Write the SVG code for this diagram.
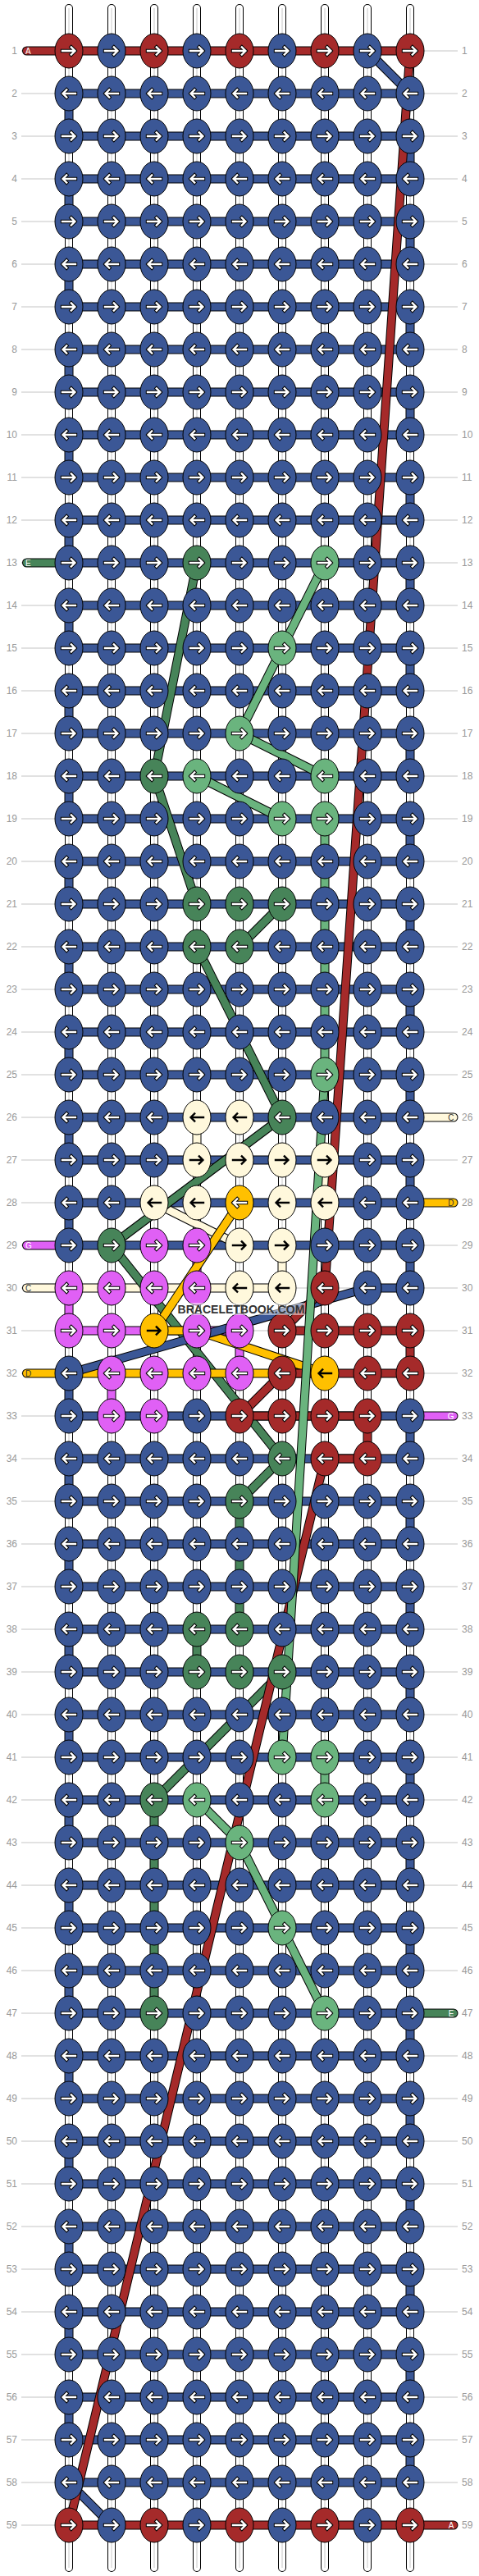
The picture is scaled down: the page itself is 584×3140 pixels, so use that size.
<svg xmlns="http://www.w3.org/2000/svg" width="584" height="3140" viewBox="0 0 584 3140">
<style>
.gl{fill:none;stroke:#c4c4c4;stroke-width:1}
.bo{fill:none;stroke:#000;stroke-width:10;stroke-linecap:round}
.bw{fill:none;stroke:#fff;stroke-width:8;stroke-linecap:round}
.bc{fill:none;stroke:#c8c8c8;stroke-width:1}
.o{fill:none;stroke:#000;stroke-width:11;stroke-linecap:round;stroke-linejoin:round}
.s{fill:none;stroke-width:9;stroke-linecap:round;stroke-linejoin:round}
.sB{stroke:#3b5796}.sR{stroke:#a52a2a}.sG{stroke:#478459}.sL{stroke:#6ab47e}.sP{stroke:#e060f5}.sC{stroke:#fff8dc}.sY{stroke:#ffc000}
ellipse{stroke:#000;stroke-width:1}
.cB{fill:#3b5796}.cR{fill:#a52a2a}.cG{fill:#478459}.cL{fill:#6ab47e}.cP{fill:#e060f5}.cC{fill:#fff8dc}.cY{fill:#ffc000}
.ao{fill:none;stroke:#000;stroke-width:4.4;stroke-linecap:square}
.aw{fill:none;stroke:#fff;stroke-width:2.4;stroke-linecap:square}
.ab{fill:none;stroke:#000;stroke-width:2.4;stroke-linecap:square}
text{font-family:"Liberation Sans",Arial,sans-serif}
.ln{font-size:12px;fill:#999;text-anchor:end}
.rn{font-size:12px;fill:#999}
.st{font-size:10px;fill:#fff}
.sd{font-size:10px;fill:#333}
.ste{font-size:10px;fill:#fff;text-anchor:end}
.sde{font-size:10px;fill:#333;text-anchor:end}
.wm{font-size:14px;font-weight:bold;fill:#333;text-anchor:middle}
</style>
<defs>
<path id="aR" d="M-8 0H7M2.8-4.6L7.4 0L2.8 4.6"/>
<path id="aL" d="M8 0H-7M-2.8-4.6L-7.4 0L-2.8 4.6"/>
<g id="Br"><ellipse class="cB" rx="17" ry="21"/><use href="#aR" class="ao"/><use href="#aR" class="aw"/></g>
<g id="Bl"><ellipse class="cB" rx="17" ry="21"/><use href="#aL" class="ao"/><use href="#aL" class="aw"/></g>
<g id="Rr"><ellipse class="cR" rx="17" ry="21"/><use href="#aR" class="ao"/><use href="#aR" class="aw"/></g>
<g id="Rl"><ellipse class="cR" rx="17" ry="21"/><use href="#aL" class="ao"/><use href="#aL" class="aw"/></g>
<g id="Gr"><ellipse class="cG" rx="17" ry="21"/><use href="#aR" class="ao"/><use href="#aR" class="aw"/></g>
<g id="Gl"><ellipse class="cG" rx="17" ry="21"/><use href="#aL" class="ao"/><use href="#aL" class="aw"/></g>
<g id="Lr"><ellipse class="cL" rx="17" ry="21"/><use href="#aR" class="ao"/><use href="#aR" class="aw"/></g>
<g id="Ll"><ellipse class="cL" rx="17" ry="21"/><use href="#aL" class="ao"/><use href="#aL" class="aw"/></g>
<g id="Pr"><ellipse class="cP" rx="17" ry="21"/><use href="#aR" class="ao"/><use href="#aR" class="aw"/></g>
<g id="Pl"><ellipse class="cP" rx="17" ry="21"/><use href="#aL" class="ao"/><use href="#aL" class="aw"/></g>
<g id="Cr"><ellipse class="cC" rx="17" ry="21"/><use href="#aR" class="ab"/></g>
<g id="Cl"><ellipse class="cC" rx="17" ry="21"/><use href="#aL" class="ab"/></g>
<g id="Yr"><ellipse class="cY" rx="17" ry="21"/><use href="#aR" class="ab"/></g>
<g id="Yl"><ellipse class="cY" rx="17" ry="21"/><use href="#aL" class="ab"/></g>
<g id="Yw"><ellipse class="cY" rx="17" ry="21"/><use href="#aL" class="ao"/><use href="#aL" class="aw"/></g>
<path id="pBase" d="M84 10V3130M136 10V3130M188 10V3130M240 10V3130M292 10V3130M344 10V3130M396 10V3130M448 10V3130M500 10V3130"/>
<path id="pB1" d="M448 62L500 114H84V166H500V218H84V270H500V322H84V374H500V426H84V478H500V530H84V582H500V634H84V686H500V738H84V790H500V842H84V894H500V946H84V998H500V1050H84V1102H500V1154H84V1206H500V1258H84V1310H500V1362H84V1414H500V1466H84V1518H500V1570H448"/>
<path id="pB2" d="M84 1674V1726H500V1778H84V1830H500V1882H84V1934H500V1986H84V2038H500V2090H84V2142H500V2194H84V2246H500V2298H84V2350H500V2402H84V2454H500V2506H84V2558H500V2610H84V2662H500V2714H84V2766H500V2818H84V2870H500V2922H84V2974H500V3026H84L136 3078"/>
<path id="pBd" d="M448 1570L84 1674"/>
<path id="pC" d="M553 1362H500M240 1362V1414M396 1414V1466M188 1466L292 1518M344 1518V1570H32.5"/>
<path id="pP" d="M32.5 1518H84M240 1518V1570M84 1570V1622H292V1674M136 1674V1726M500 1726H553"/>
<path id="pG" d="M32.5 686H84M240 686L188 946L240 1102M344 1102L292 1154M240 1154L344 1362L136 1518L344 1778L292 1830V1986M240 1986V2038M344 2038L188 2194V2454M500 2454H553"/>
<path id="pY" d="M553 1466H500M292 1466L188 1622H240L396 1674H32.5"/>
<path id="pR" d="M32.5 62H500L396 1570L344 1622H500V1674H344L292 1726H448V1778H396L84 3078H553"/>
<path id="pL" d="M396 686L344 790L292 894L396 946M240 946L344 998M396 998V1310L344 2142M396 2142V2194M240 2194L292 2246L344 2350L396 2454"/>
</defs>
<rect width="584" height="3140" fill="#fff"/>
<g id="guides">
<path class="gl" d="M26 62H558M26 114H558M26 166H558M26 218H558M26 270H558M26 322H558M26 374H558M26 426H558M26 478H558M26 530H558M26 582H558M26 634H558M26 686H558M26 738H558M26 790H558M26 842H558M26 894H558M26 946H558M26 998H558M26 1050H558M26 1102H558M26 1154H558M26 1206H558M26 1258H558M26 1310H558M26 1362H558M26 1414H558M26 1466H558M26 1518H558M26 1570H558M26 1622H558M26 1674H558M26 1726H558M26 1778H558M26 1830H558M26 1882H558M26 1934H558M26 1986H558M26 2038H558M26 2090H558M26 2142H558M26 2194H558M26 2246H558M26 2298H558M26 2350H558M26 2402H558M26 2454H558M26 2506H558M26 2558H558M26 2610H558M26 2662H558M26 2714H558M26 2766H558M26 2818H558M26 2870H558M26 2922H558M26 2974H558M26 3026H558M26 3078H558"/>
</g>
<g id="connectors">
<use href="#pBase" class="bo"/><use href="#pBase" class="bw"/><use href="#pBase" class="bc"/>
<use href="#pB1" class="o"/><use href="#pB1" class="s sB"/>
<use href="#pB2" class="o"/><use href="#pB2" class="s sB"/>
<use href="#pC" class="o"/><use href="#pC" class="s sC"/>
<use href="#pP" class="o"/><use href="#pP" class="s sP"/>
<use href="#pG" class="o"/><use href="#pG" class="s sG"/>
<use href="#pY" class="o"/><use href="#pY" class="s sY"/>
<use href="#pBd" class="o"/><use href="#pBd" class="s sB"/>
<use href="#pR" class="o"/><use href="#pR" class="s sR"/>
<use href="#pL" class="o"/><use href="#pL" class="s sL"/>
</g>
<g id="stub-labels">
<text class="st" x="31" y="65.6">A</text>
<text class="st" x="31" y="689.6">E</text>
<text class="st" x="31" y="1521.6">G</text>
<text class="sd" x="31" y="1573.6">C</text>
<text class="sd" x="31" y="1677.6">D</text>
<text class="sde" x="553.5" y="1365.6">C</text>
<text class="sde" x="553.5" y="1469.6">D</text>
<text class="ste" x="553.5" y="1729.6">G</text>
<text class="ste" x="553.5" y="2457.6">E</text>
<text class="ste" x="553.5" y="3081.6">A</text>
</g>
<g id="knots">
<g id="k1_1"><use href="#Rr" x="84" y="62"/></g><g id="k1_2"><use href="#Br" x="136" y="62"/></g><g id="k1_3"><use href="#Rr" x="188" y="62"/></g><g id="k1_4"><use href="#Br" x="240" y="62"/></g><g id="k1_5"><use href="#Rr" x="292" y="62"/></g><g id="k1_6"><use href="#Br" x="344" y="62"/></g><g id="k1_7"><use href="#Rr" x="396" y="62"/></g><g id="k1_8"><use href="#Br" x="448" y="62"/></g><g id="k1_9"><use href="#Rr" x="500" y="62"/></g>
<g id="k2_1"><use href="#Bl" x="84" y="114"/></g><g id="k2_2"><use href="#Bl" x="136" y="114"/></g><g id="k2_3"><use href="#Bl" x="188" y="114"/></g><g id="k2_4"><use href="#Bl" x="240" y="114"/></g><g id="k2_5"><use href="#Bl" x="292" y="114"/></g><g id="k2_6"><use href="#Bl" x="344" y="114"/></g><g id="k2_7"><use href="#Bl" x="396" y="114"/></g><g id="k2_8"><use href="#Bl" x="448" y="114"/></g><g id="k2_9"><use href="#Bl" x="500" y="114"/></g>
<g id="k3_1"><use href="#Br" x="84" y="166"/></g><g id="k3_2"><use href="#Br" x="136" y="166"/></g><g id="k3_3"><use href="#Br" x="188" y="166"/></g><g id="k3_4"><use href="#Br" x="240" y="166"/></g><g id="k3_5"><use href="#Br" x="292" y="166"/></g><g id="k3_6"><use href="#Br" x="344" y="166"/></g><g id="k3_7"><use href="#Br" x="396" y="166"/></g><g id="k3_8"><use href="#Br" x="448" y="166"/></g><g id="k3_9"><use href="#Br" x="500" y="166"/></g>
<g id="k4_1"><use href="#Bl" x="84" y="218"/></g><g id="k4_2"><use href="#Bl" x="136" y="218"/></g><g id="k4_3"><use href="#Bl" x="188" y="218"/></g><g id="k4_4"><use href="#Bl" x="240" y="218"/></g><g id="k4_5"><use href="#Bl" x="292" y="218"/></g><g id="k4_6"><use href="#Bl" x="344" y="218"/></g><g id="k4_7"><use href="#Bl" x="396" y="218"/></g><g id="k4_8"><use href="#Bl" x="448" y="218"/></g><g id="k4_9"><use href="#Bl" x="500" y="218"/></g>
<g id="k5_1"><use href="#Br" x="84" y="270"/></g><g id="k5_2"><use href="#Br" x="136" y="270"/></g><g id="k5_3"><use href="#Br" x="188" y="270"/></g><g id="k5_4"><use href="#Br" x="240" y="270"/></g><g id="k5_5"><use href="#Br" x="292" y="270"/></g><g id="k5_6"><use href="#Br" x="344" y="270"/></g><g id="k5_7"><use href="#Br" x="396" y="270"/></g><g id="k5_8"><use href="#Br" x="448" y="270"/></g><g id="k5_9"><use href="#Br" x="500" y="270"/></g>
<g id="k6_1"><use href="#Bl" x="84" y="322"/></g><g id="k6_2"><use href="#Bl" x="136" y="322"/></g><g id="k6_3"><use href="#Bl" x="188" y="322"/></g><g id="k6_4"><use href="#Bl" x="240" y="322"/></g><g id="k6_5"><use href="#Bl" x="292" y="322"/></g><g id="k6_6"><use href="#Bl" x="344" y="322"/></g><g id="k6_7"><use href="#Bl" x="396" y="322"/></g><g id="k6_8"><use href="#Bl" x="448" y="322"/></g><g id="k6_9"><use href="#Bl" x="500" y="322"/></g>
<g id="k7_1"><use href="#Br" x="84" y="374"/></g><g id="k7_2"><use href="#Br" x="136" y="374"/></g><g id="k7_3"><use href="#Br" x="188" y="374"/></g><g id="k7_4"><use href="#Br" x="240" y="374"/></g><g id="k7_5"><use href="#Br" x="292" y="374"/></g><g id="k7_6"><use href="#Br" x="344" y="374"/></g><g id="k7_7"><use href="#Br" x="396" y="374"/></g><g id="k7_8"><use href="#Br" x="448" y="374"/></g><g id="k7_9"><use href="#Br" x="500" y="374"/></g>
<g id="k8_1"><use href="#Bl" x="84" y="426"/></g><g id="k8_2"><use href="#Bl" x="136" y="426"/></g><g id="k8_3"><use href="#Bl" x="188" y="426"/></g><g id="k8_4"><use href="#Bl" x="240" y="426"/></g><g id="k8_5"><use href="#Bl" x="292" y="426"/></g><g id="k8_6"><use href="#Bl" x="344" y="426"/></g><g id="k8_7"><use href="#Bl" x="396" y="426"/></g><g id="k8_8"><use href="#Bl" x="448" y="426"/></g><g id="k8_9"><use href="#Bl" x="500" y="426"/></g>
<g id="k9_1"><use href="#Br" x="84" y="478"/></g><g id="k9_2"><use href="#Br" x="136" y="478"/></g><g id="k9_3"><use href="#Br" x="188" y="478"/></g><g id="k9_4"><use href="#Br" x="240" y="478"/></g><g id="k9_5"><use href="#Br" x="292" y="478"/></g><g id="k9_6"><use href="#Br" x="344" y="478"/></g><g id="k9_7"><use href="#Br" x="396" y="478"/></g><g id="k9_8"><use href="#Br" x="448" y="478"/></g><g id="k9_9"><use href="#Br" x="500" y="478"/></g>
<g id="k10_1"><use href="#Bl" x="84" y="530"/></g><g id="k10_2"><use href="#Bl" x="136" y="530"/></g><g id="k10_3"><use href="#Bl" x="188" y="530"/></g><g id="k10_4"><use href="#Bl" x="240" y="530"/></g><g id="k10_5"><use href="#Bl" x="292" y="530"/></g><g id="k10_6"><use href="#Bl" x="344" y="530"/></g><g id="k10_7"><use href="#Bl" x="396" y="530"/></g><g id="k10_8"><use href="#Bl" x="448" y="530"/></g><g id="k10_9"><use href="#Bl" x="500" y="530"/></g>
<g id="k11_1"><use href="#Br" x="84" y="582"/></g><g id="k11_2"><use href="#Br" x="136" y="582"/></g><g id="k11_3"><use href="#Br" x="188" y="582"/></g><g id="k11_4"><use href="#Br" x="240" y="582"/></g><g id="k11_5"><use href="#Br" x="292" y="582"/></g><g id="k11_6"><use href="#Br" x="344" y="582"/></g><g id="k11_7"><use href="#Br" x="396" y="582"/></g><g id="k11_8"><use href="#Br" x="448" y="582"/></g><g id="k11_9"><use href="#Br" x="500" y="582"/></g>
<g id="k12_1"><use href="#Bl" x="84" y="634"/></g><g id="k12_2"><use href="#Bl" x="136" y="634"/></g><g id="k12_3"><use href="#Bl" x="188" y="634"/></g><g id="k12_4"><use href="#Bl" x="240" y="634"/></g><g id="k12_5"><use href="#Bl" x="292" y="634"/></g><g id="k12_6"><use href="#Bl" x="344" y="634"/></g><g id="k12_7"><use href="#Bl" x="396" y="634"/></g><g id="k12_8"><use href="#Bl" x="448" y="634"/></g><g id="k12_9"><use href="#Bl" x="500" y="634"/></g>
<g id="k13_1"><use href="#Br" x="84" y="686"/></g><g id="k13_2"><use href="#Br" x="136" y="686"/></g><g id="k13_3"><use href="#Br" x="188" y="686"/></g><g id="k13_4"><use href="#Gr" x="240" y="686"/></g><g id="k13_5"><use href="#Br" x="292" y="686"/></g><g id="k13_6"><use href="#Br" x="344" y="686"/></g><g id="k13_7"><use href="#Lr" x="396" y="686"/></g><g id="k13_8"><use href="#Br" x="448" y="686"/></g><g id="k13_9"><use href="#Br" x="500" y="686"/></g>
<g id="k14_1"><use href="#Bl" x="84" y="738"/></g><g id="k14_2"><use href="#Bl" x="136" y="738"/></g><g id="k14_3"><use href="#Bl" x="188" y="738"/></g><g id="k14_4"><use href="#Bl" x="240" y="738"/></g><g id="k14_5"><use href="#Bl" x="292" y="738"/></g><g id="k14_6"><use href="#Bl" x="344" y="738"/></g><g id="k14_7"><use href="#Bl" x="396" y="738"/></g><g id="k14_8"><use href="#Bl" x="448" y="738"/></g><g id="k14_9"><use href="#Bl" x="500" y="738"/></g>
<g id="k15_1"><use href="#Br" x="84" y="790"/></g><g id="k15_2"><use href="#Br" x="136" y="790"/></g><g id="k15_3"><use href="#Br" x="188" y="790"/></g><g id="k15_4"><use href="#Br" x="240" y="790"/></g><g id="k15_5"><use href="#Br" x="292" y="790"/></g><g id="k15_6"><use href="#Lr" x="344" y="790"/></g><g id="k15_7"><use href="#Br" x="396" y="790"/></g><g id="k15_8"><use href="#Br" x="448" y="790"/></g><g id="k15_9"><use href="#Br" x="500" y="790"/></g>
<g id="k16_1"><use href="#Bl" x="84" y="842"/></g><g id="k16_2"><use href="#Bl" x="136" y="842"/></g><g id="k16_3"><use href="#Bl" x="188" y="842"/></g><g id="k16_4"><use href="#Bl" x="240" y="842"/></g><g id="k16_5"><use href="#Bl" x="292" y="842"/></g><g id="k16_6"><use href="#Bl" x="344" y="842"/></g><g id="k16_7"><use href="#Bl" x="396" y="842"/></g><g id="k16_8"><use href="#Bl" x="448" y="842"/></g><g id="k16_9"><use href="#Bl" x="500" y="842"/></g>
<g id="k17_1"><use href="#Br" x="84" y="894"/></g><g id="k17_2"><use href="#Br" x="136" y="894"/></g><g id="k17_3"><use href="#Br" x="188" y="894"/></g><g id="k17_4"><use href="#Br" x="240" y="894"/></g><g id="k17_5"><use href="#Lr" x="292" y="894"/></g><g id="k17_6"><use href="#Br" x="344" y="894"/></g><g id="k17_7"><use href="#Br" x="396" y="894"/></g><g id="k17_8"><use href="#Br" x="448" y="894"/></g><g id="k17_9"><use href="#Br" x="500" y="894"/></g>
<g id="k18_1"><use href="#Bl" x="84" y="946"/></g><g id="k18_2"><use href="#Bl" x="136" y="946"/></g><g id="k18_3"><use href="#Gl" x="188" y="946"/></g><g id="k18_4"><use href="#Ll" x="240" y="946"/></g><g id="k18_5"><use href="#Bl" x="292" y="946"/></g><g id="k18_6"><use href="#Bl" x="344" y="946"/></g><g id="k18_7"><use href="#Ll" x="396" y="946"/></g><g id="k18_8"><use href="#Bl" x="448" y="946"/></g><g id="k18_9"><use href="#Bl" x="500" y="946"/></g>
<g id="k19_1"><use href="#Br" x="84" y="998"/></g><g id="k19_2"><use href="#Br" x="136" y="998"/></g><g id="k19_3"><use href="#Br" x="188" y="998"/></g><g id="k19_4"><use href="#Br" x="240" y="998"/></g><g id="k19_5"><use href="#Br" x="292" y="998"/></g><g id="k19_6"><use href="#Lr" x="344" y="998"/></g><g id="k19_7"><use href="#Lr" x="396" y="998"/></g><g id="k19_8"><use href="#Br" x="448" y="998"/></g><g id="k19_9"><use href="#Br" x="500" y="998"/></g>
<g id="k20_1"><use href="#Bl" x="84" y="1050"/></g><g id="k20_2"><use href="#Bl" x="136" y="1050"/></g><g id="k20_3"><use href="#Bl" x="188" y="1050"/></g><g id="k20_4"><use href="#Bl" x="240" y="1050"/></g><g id="k20_5"><use href="#Bl" x="292" y="1050"/></g><g id="k20_6"><use href="#Bl" x="344" y="1050"/></g><g id="k20_7"><use href="#Bl" x="396" y="1050"/></g><g id="k20_8"><use href="#Bl" x="448" y="1050"/></g><g id="k20_9"><use href="#Bl" x="500" y="1050"/></g>
<g id="k21_1"><use href="#Br" x="84" y="1102"/></g><g id="k21_2"><use href="#Br" x="136" y="1102"/></g><g id="k21_3"><use href="#Br" x="188" y="1102"/></g><g id="k21_4"><use href="#Gr" x="240" y="1102"/></g><g id="k21_5"><use href="#Gr" x="292" y="1102"/></g><g id="k21_6"><use href="#Gr" x="344" y="1102"/></g><g id="k21_7"><use href="#Br" x="396" y="1102"/></g><g id="k21_8"><use href="#Br" x="448" y="1102"/></g><g id="k21_9"><use href="#Br" x="500" y="1102"/></g>
<g id="k22_1"><use href="#Bl" x="84" y="1154"/></g><g id="k22_2"><use href="#Bl" x="136" y="1154"/></g><g id="k22_3"><use href="#Bl" x="188" y="1154"/></g><g id="k22_4"><use href="#Gl" x="240" y="1154"/></g><g id="k22_5"><use href="#Gl" x="292" y="1154"/></g><g id="k22_6"><use href="#Bl" x="344" y="1154"/></g><g id="k22_7"><use href="#Bl" x="396" y="1154"/></g><g id="k22_8"><use href="#Bl" x="448" y="1154"/></g><g id="k22_9"><use href="#Bl" x="500" y="1154"/></g>
<g id="k23_1"><use href="#Br" x="84" y="1206"/></g><g id="k23_2"><use href="#Br" x="136" y="1206"/></g><g id="k23_3"><use href="#Br" x="188" y="1206"/></g><g id="k23_4"><use href="#Br" x="240" y="1206"/></g><g id="k23_5"><use href="#Br" x="292" y="1206"/></g><g id="k23_6"><use href="#Br" x="344" y="1206"/></g><g id="k23_7"><use href="#Br" x="396" y="1206"/></g><g id="k23_8"><use href="#Br" x="448" y="1206"/></g><g id="k23_9"><use href="#Br" x="500" y="1206"/></g>
<g id="k24_1"><use href="#Bl" x="84" y="1258"/></g><g id="k24_2"><use href="#Bl" x="136" y="1258"/></g><g id="k24_3"><use href="#Bl" x="188" y="1258"/></g><g id="k24_4"><use href="#Bl" x="240" y="1258"/></g><g id="k24_5"><use href="#Bl" x="292" y="1258"/></g><g id="k24_6"><use href="#Bl" x="344" y="1258"/></g><g id="k24_7"><use href="#Bl" x="396" y="1258"/></g><g id="k24_8"><use href="#Bl" x="448" y="1258"/></g><g id="k24_9"><use href="#Bl" x="500" y="1258"/></g>
<g id="k25_1"><use href="#Br" x="84" y="1310"/></g><g id="k25_2"><use href="#Br" x="136" y="1310"/></g><g id="k25_3"><use href="#Br" x="188" y="1310"/></g><g id="k25_4"><use href="#Br" x="240" y="1310"/></g><g id="k25_5"><use href="#Br" x="292" y="1310"/></g><g id="k25_6"><use href="#Br" x="344" y="1310"/></g><g id="k25_7"><use href="#Lr" x="396" y="1310"/></g><g id="k25_8"><use href="#Br" x="448" y="1310"/></g><g id="k25_9"><use href="#Br" x="500" y="1310"/></g>
<g id="k26_1"><use href="#Bl" x="84" y="1362"/></g><g id="k26_2"><use href="#Bl" x="136" y="1362"/></g><g id="k26_3"><use href="#Bl" x="188" y="1362"/></g><g id="k26_4"><use href="#Cl" x="240" y="1362"/></g><g id="k26_5"><use href="#Cl" x="292" y="1362"/></g><g id="k26_6"><use href="#Gl" x="344" y="1362"/></g><g id="k26_7"><use href="#Bl" x="396" y="1362"/></g><g id="k26_8"><use href="#Bl" x="448" y="1362"/></g><g id="k26_9"><use href="#Bl" x="500" y="1362"/></g>
<g id="k27_1"><use href="#Br" x="84" y="1414"/></g><g id="k27_2"><use href="#Br" x="136" y="1414"/></g><g id="k27_3"><use href="#Br" x="188" y="1414"/></g><g id="k27_4"><use href="#Cr" x="240" y="1414"/></g><g id="k27_5"><use href="#Cr" x="292" y="1414"/></g><g id="k27_6"><use href="#Cr" x="344" y="1414"/></g><g id="k27_7"><use href="#Cr" x="396" y="1414"/></g><g id="k27_8"><use href="#Br" x="448" y="1414"/></g><g id="k27_9"><use href="#Br" x="500" y="1414"/></g>
<g id="k28_1"><use href="#Bl" x="84" y="1466"/></g><g id="k28_2"><use href="#Bl" x="136" y="1466"/></g><g id="k28_3"><use href="#Cl" x="188" y="1466"/></g><g id="k28_4"><use href="#Cl" x="240" y="1466"/></g><g id="k28_5"><use href="#Yw" x="292" y="1466"/></g><g id="k28_6"><use href="#Cl" x="344" y="1466"/></g><g id="k28_7"><use href="#Cl" x="396" y="1466"/></g><g id="k28_8"><use href="#Bl" x="448" y="1466"/></g><g id="k28_9"><use href="#Bl" x="500" y="1466"/></g>
<g id="k29_1"><use href="#Br" x="84" y="1518"/></g><g id="k29_2"><use href="#Gr" x="136" y="1518"/></g><g id="k29_3"><use href="#Pr" x="188" y="1518"/></g><g id="k29_4"><use href="#Pr" x="240" y="1518"/></g><g id="k29_5"><use href="#Cr" x="292" y="1518"/></g><g id="k29_6"><use href="#Cr" x="344" y="1518"/></g><g id="k29_7"><use href="#Br" x="396" y="1518"/></g><g id="k29_8"><use href="#Br" x="448" y="1518"/></g><g id="k29_9"><use href="#Br" x="500" y="1518"/></g>
<g id="k30_1"><use href="#Pl" x="84" y="1570"/></g><g id="k30_2"><use href="#Pl" x="136" y="1570"/></g><g id="k30_3"><use href="#Pl" x="188" y="1570"/></g><g id="k30_4"><use href="#Pl" x="240" y="1570"/></g><g id="k30_5"><use href="#Cl" x="292" y="1570"/></g><g id="k30_6"><use href="#Cl" x="344" y="1570"/></g><g id="k30_7"><use href="#Rl" x="396" y="1570"/></g><g id="k30_8"><use href="#Bl" x="448" y="1570"/></g><g id="k30_9"><use href="#Bl" x="500" y="1570"/></g>
<g id="k31_1"><use href="#Pr" x="84" y="1622"/></g><g id="k31_2"><use href="#Pr" x="136" y="1622"/></g><g id="k31_3"><use href="#Yr" x="188" y="1622"/></g><g id="k31_4"><use href="#Pr" x="240" y="1622"/></g><g id="k31_5"><use href="#Pr" x="292" y="1622"/></g><g id="k31_6"><use href="#Rr" x="344" y="1622"/></g><g id="k31_7"><use href="#Rr" x="396" y="1622"/></g><g id="k31_8"><use href="#Rr" x="448" y="1622"/></g><g id="k31_9"><use href="#Rr" x="500" y="1622"/></g>
<g id="k32_1"><use href="#Bl" x="84" y="1674"/></g><g id="k32_2"><use href="#Pl" x="136" y="1674"/></g><g id="k32_3"><use href="#Pl" x="188" y="1674"/></g><g id="k32_4"><use href="#Pl" x="240" y="1674"/></g><g id="k32_5"><use href="#Pl" x="292" y="1674"/></g><g id="k32_6"><use href="#Rl" x="344" y="1674"/></g><g id="k32_7"><use href="#Yl" x="396" y="1674"/></g><g id="k32_8"><use href="#Rl" x="448" y="1674"/></g><g id="k32_9"><use href="#Rl" x="500" y="1674"/></g>
<g id="k33_1"><use href="#Br" x="84" y="1726"/></g><g id="k33_2"><use href="#Pr" x="136" y="1726"/></g><g id="k33_3"><use href="#Pr" x="188" y="1726"/></g><g id="k33_4"><use href="#Br" x="240" y="1726"/></g><g id="k33_5"><use href="#Rr" x="292" y="1726"/></g><g id="k33_6"><use href="#Rr" x="344" y="1726"/></g><g id="k33_7"><use href="#Rr" x="396" y="1726"/></g><g id="k33_8"><use href="#Rr" x="448" y="1726"/></g><g id="k33_9"><use href="#Br" x="500" y="1726"/></g>
<g id="k34_1"><use href="#Bl" x="84" y="1778"/></g><g id="k34_2"><use href="#Bl" x="136" y="1778"/></g><g id="k34_3"><use href="#Bl" x="188" y="1778"/></g><g id="k34_4"><use href="#Bl" x="240" y="1778"/></g><g id="k34_5"><use href="#Bl" x="292" y="1778"/></g><g id="k34_6"><use href="#Gl" x="344" y="1778"/></g><g id="k34_7"><use href="#Rl" x="396" y="1778"/></g><g id="k34_8"><use href="#Rl" x="448" y="1778"/></g><g id="k34_9"><use href="#Bl" x="500" y="1778"/></g>
<g id="k35_1"><use href="#Br" x="84" y="1830"/></g><g id="k35_2"><use href="#Br" x="136" y="1830"/></g><g id="k35_3"><use href="#Br" x="188" y="1830"/></g><g id="k35_4"><use href="#Br" x="240" y="1830"/></g><g id="k35_5"><use href="#Gr" x="292" y="1830"/></g><g id="k35_6"><use href="#Br" x="344" y="1830"/></g><g id="k35_7"><use href="#Br" x="396" y="1830"/></g><g id="k35_8"><use href="#Br" x="448" y="1830"/></g><g id="k35_9"><use href="#Br" x="500" y="1830"/></g>
<g id="k36_1"><use href="#Bl" x="84" y="1882"/></g><g id="k36_2"><use href="#Bl" x="136" y="1882"/></g><g id="k36_3"><use href="#Bl" x="188" y="1882"/></g><g id="k36_4"><use href="#Bl" x="240" y="1882"/></g><g id="k36_5"><use href="#Bl" x="292" y="1882"/></g><g id="k36_6"><use href="#Bl" x="344" y="1882"/></g><g id="k36_7"><use href="#Bl" x="396" y="1882"/></g><g id="k36_8"><use href="#Bl" x="448" y="1882"/></g><g id="k36_9"><use href="#Bl" x="500" y="1882"/></g>
<g id="k37_1"><use href="#Br" x="84" y="1934"/></g><g id="k37_2"><use href="#Br" x="136" y="1934"/></g><g id="k37_3"><use href="#Br" x="188" y="1934"/></g><g id="k37_4"><use href="#Br" x="240" y="1934"/></g><g id="k37_5"><use href="#Br" x="292" y="1934"/></g><g id="k37_6"><use href="#Br" x="344" y="1934"/></g><g id="k37_7"><use href="#Br" x="396" y="1934"/></g><g id="k37_8"><use href="#Br" x="448" y="1934"/></g><g id="k37_9"><use href="#Br" x="500" y="1934"/></g>
<g id="k38_1"><use href="#Bl" x="84" y="1986"/></g><g id="k38_2"><use href="#Bl" x="136" y="1986"/></g><g id="k38_3"><use href="#Bl" x="188" y="1986"/></g><g id="k38_4"><use href="#Gl" x="240" y="1986"/></g><g id="k38_5"><use href="#Gl" x="292" y="1986"/></g><g id="k38_6"><use href="#Bl" x="344" y="1986"/></g><g id="k38_7"><use href="#Bl" x="396" y="1986"/></g><g id="k38_8"><use href="#Bl" x="448" y="1986"/></g><g id="k38_9"><use href="#Bl" x="500" y="1986"/></g>
<g id="k39_1"><use href="#Br" x="84" y="2038"/></g><g id="k39_2"><use href="#Br" x="136" y="2038"/></g><g id="k39_3"><use href="#Br" x="188" y="2038"/></g><g id="k39_4"><use href="#Gr" x="240" y="2038"/></g><g id="k39_5"><use href="#Gr" x="292" y="2038"/></g><g id="k39_6"><use href="#Gr" x="344" y="2038"/></g><g id="k39_7"><use href="#Br" x="396" y="2038"/></g><g id="k39_8"><use href="#Br" x="448" y="2038"/></g><g id="k39_9"><use href="#Br" x="500" y="2038"/></g>
<g id="k40_1"><use href="#Bl" x="84" y="2090"/></g><g id="k40_2"><use href="#Bl" x="136" y="2090"/></g><g id="k40_3"><use href="#Bl" x="188" y="2090"/></g><g id="k40_4"><use href="#Bl" x="240" y="2090"/></g><g id="k40_5"><use href="#Bl" x="292" y="2090"/></g><g id="k40_6"><use href="#Bl" x="344" y="2090"/></g><g id="k40_7"><use href="#Bl" x="396" y="2090"/></g><g id="k40_8"><use href="#Bl" x="448" y="2090"/></g><g id="k40_9"><use href="#Bl" x="500" y="2090"/></g>
<g id="k41_1"><use href="#Br" x="84" y="2142"/></g><g id="k41_2"><use href="#Br" x="136" y="2142"/></g><g id="k41_3"><use href="#Br" x="188" y="2142"/></g><g id="k41_4"><use href="#Br" x="240" y="2142"/></g><g id="k41_5"><use href="#Br" x="292" y="2142"/></g><g id="k41_6"><use href="#Lr" x="344" y="2142"/></g><g id="k41_7"><use href="#Lr" x="396" y="2142"/></g><g id="k41_8"><use href="#Br" x="448" y="2142"/></g><g id="k41_9"><use href="#Br" x="500" y="2142"/></g>
<g id="k42_1"><use href="#Bl" x="84" y="2194"/></g><g id="k42_2"><use href="#Bl" x="136" y="2194"/></g><g id="k42_3"><use href="#Gl" x="188" y="2194"/></g><g id="k42_4"><use href="#Ll" x="240" y="2194"/></g><g id="k42_5"><use href="#Bl" x="292" y="2194"/></g><g id="k42_6"><use href="#Bl" x="344" y="2194"/></g><g id="k42_7"><use href="#Ll" x="396" y="2194"/></g><g id="k42_8"><use href="#Bl" x="448" y="2194"/></g><g id="k42_9"><use href="#Bl" x="500" y="2194"/></g>
<g id="k43_1"><use href="#Br" x="84" y="2246"/></g><g id="k43_2"><use href="#Br" x="136" y="2246"/></g><g id="k43_3"><use href="#Br" x="188" y="2246"/></g><g id="k43_4"><use href="#Br" x="240" y="2246"/></g><g id="k43_5"><use href="#Lr" x="292" y="2246"/></g><g id="k43_6"><use href="#Br" x="344" y="2246"/></g><g id="k43_7"><use href="#Br" x="396" y="2246"/></g><g id="k43_8"><use href="#Br" x="448" y="2246"/></g><g id="k43_9"><use href="#Br" x="500" y="2246"/></g>
<g id="k44_1"><use href="#Bl" x="84" y="2298"/></g><g id="k44_2"><use href="#Bl" x="136" y="2298"/></g><g id="k44_3"><use href="#Bl" x="188" y="2298"/></g><g id="k44_4"><use href="#Bl" x="240" y="2298"/></g><g id="k44_5"><use href="#Bl" x="292" y="2298"/></g><g id="k44_6"><use href="#Bl" x="344" y="2298"/></g><g id="k44_7"><use href="#Bl" x="396" y="2298"/></g><g id="k44_8"><use href="#Bl" x="448" y="2298"/></g><g id="k44_9"><use href="#Bl" x="500" y="2298"/></g>
<g id="k45_1"><use href="#Br" x="84" y="2350"/></g><g id="k45_2"><use href="#Br" x="136" y="2350"/></g><g id="k45_3"><use href="#Br" x="188" y="2350"/></g><g id="k45_4"><use href="#Br" x="240" y="2350"/></g><g id="k45_5"><use href="#Br" x="292" y="2350"/></g><g id="k45_6"><use href="#Lr" x="344" y="2350"/></g><g id="k45_7"><use href="#Br" x="396" y="2350"/></g><g id="k45_8"><use href="#Br" x="448" y="2350"/></g><g id="k45_9"><use href="#Br" x="500" y="2350"/></g>
<g id="k46_1"><use href="#Bl" x="84" y="2402"/></g><g id="k46_2"><use href="#Bl" x="136" y="2402"/></g><g id="k46_3"><use href="#Bl" x="188" y="2402"/></g><g id="k46_4"><use href="#Bl" x="240" y="2402"/></g><g id="k46_5"><use href="#Bl" x="292" y="2402"/></g><g id="k46_6"><use href="#Bl" x="344" y="2402"/></g><g id="k46_7"><use href="#Bl" x="396" y="2402"/></g><g id="k46_8"><use href="#Bl" x="448" y="2402"/></g><g id="k46_9"><use href="#Bl" x="500" y="2402"/></g>
<g id="k47_1"><use href="#Br" x="84" y="2454"/></g><g id="k47_2"><use href="#Br" x="136" y="2454"/></g><g id="k47_3"><use href="#Gr" x="188" y="2454"/></g><g id="k47_4"><use href="#Br" x="240" y="2454"/></g><g id="k47_5"><use href="#Br" x="292" y="2454"/></g><g id="k47_6"><use href="#Br" x="344" y="2454"/></g><g id="k47_7"><use href="#Lr" x="396" y="2454"/></g><g id="k47_8"><use href="#Br" x="448" y="2454"/></g><g id="k47_9"><use href="#Br" x="500" y="2454"/></g>
<g id="k48_1"><use href="#Bl" x="84" y="2506"/></g><g id="k48_2"><use href="#Bl" x="136" y="2506"/></g><g id="k48_3"><use href="#Bl" x="188" y="2506"/></g><g id="k48_4"><use href="#Bl" x="240" y="2506"/></g><g id="k48_5"><use href="#Bl" x="292" y="2506"/></g><g id="k48_6"><use href="#Bl" x="344" y="2506"/></g><g id="k48_7"><use href="#Bl" x="396" y="2506"/></g><g id="k48_8"><use href="#Bl" x="448" y="2506"/></g><g id="k48_9"><use href="#Bl" x="500" y="2506"/></g>
<g id="k49_1"><use href="#Br" x="84" y="2558"/></g><g id="k49_2"><use href="#Br" x="136" y="2558"/></g><g id="k49_3"><use href="#Br" x="188" y="2558"/></g><g id="k49_4"><use href="#Br" x="240" y="2558"/></g><g id="k49_5"><use href="#Br" x="292" y="2558"/></g><g id="k49_6"><use href="#Br" x="344" y="2558"/></g><g id="k49_7"><use href="#Br" x="396" y="2558"/></g><g id="k49_8"><use href="#Br" x="448" y="2558"/></g><g id="k49_9"><use href="#Br" x="500" y="2558"/></g>
<g id="k50_1"><use href="#Bl" x="84" y="2610"/></g><g id="k50_2"><use href="#Bl" x="136" y="2610"/></g><g id="k50_3"><use href="#Bl" x="188" y="2610"/></g><g id="k50_4"><use href="#Bl" x="240" y="2610"/></g><g id="k50_5"><use href="#Bl" x="292" y="2610"/></g><g id="k50_6"><use href="#Bl" x="344" y="2610"/></g><g id="k50_7"><use href="#Bl" x="396" y="2610"/></g><g id="k50_8"><use href="#Bl" x="448" y="2610"/></g><g id="k50_9"><use href="#Bl" x="500" y="2610"/></g>
<g id="k51_1"><use href="#Br" x="84" y="2662"/></g><g id="k51_2"><use href="#Br" x="136" y="2662"/></g><g id="k51_3"><use href="#Br" x="188" y="2662"/></g><g id="k51_4"><use href="#Br" x="240" y="2662"/></g><g id="k51_5"><use href="#Br" x="292" y="2662"/></g><g id="k51_6"><use href="#Br" x="344" y="2662"/></g><g id="k51_7"><use href="#Br" x="396" y="2662"/></g><g id="k51_8"><use href="#Br" x="448" y="2662"/></g><g id="k51_9"><use href="#Br" x="500" y="2662"/></g>
<g id="k52_1"><use href="#Bl" x="84" y="2714"/></g><g id="k52_2"><use href="#Bl" x="136" y="2714"/></g><g id="k52_3"><use href="#Bl" x="188" y="2714"/></g><g id="k52_4"><use href="#Bl" x="240" y="2714"/></g><g id="k52_5"><use href="#Bl" x="292" y="2714"/></g><g id="k52_6"><use href="#Bl" x="344" y="2714"/></g><g id="k52_7"><use href="#Bl" x="396" y="2714"/></g><g id="k52_8"><use href="#Bl" x="448" y="2714"/></g><g id="k52_9"><use href="#Bl" x="500" y="2714"/></g>
<g id="k53_1"><use href="#Br" x="84" y="2766"/></g><g id="k53_2"><use href="#Br" x="136" y="2766"/></g><g id="k53_3"><use href="#Br" x="188" y="2766"/></g><g id="k53_4"><use href="#Br" x="240" y="2766"/></g><g id="k53_5"><use href="#Br" x="292" y="2766"/></g><g id="k53_6"><use href="#Br" x="344" y="2766"/></g><g id="k53_7"><use href="#Br" x="396" y="2766"/></g><g id="k53_8"><use href="#Br" x="448" y="2766"/></g><g id="k53_9"><use href="#Br" x="500" y="2766"/></g>
<g id="k54_1"><use href="#Bl" x="84" y="2818"/></g><g id="k54_2"><use href="#Bl" x="136" y="2818"/></g><g id="k54_3"><use href="#Bl" x="188" y="2818"/></g><g id="k54_4"><use href="#Bl" x="240" y="2818"/></g><g id="k54_5"><use href="#Bl" x="292" y="2818"/></g><g id="k54_6"><use href="#Bl" x="344" y="2818"/></g><g id="k54_7"><use href="#Bl" x="396" y="2818"/></g><g id="k54_8"><use href="#Bl" x="448" y="2818"/></g><g id="k54_9"><use href="#Bl" x="500" y="2818"/></g>
<g id="k55_1"><use href="#Br" x="84" y="2870"/></g><g id="k55_2"><use href="#Br" x="136" y="2870"/></g><g id="k55_3"><use href="#Br" x="188" y="2870"/></g><g id="k55_4"><use href="#Br" x="240" y="2870"/></g><g id="k55_5"><use href="#Br" x="292" y="2870"/></g><g id="k55_6"><use href="#Br" x="344" y="2870"/></g><g id="k55_7"><use href="#Br" x="396" y="2870"/></g><g id="k55_8"><use href="#Br" x="448" y="2870"/></g><g id="k55_9"><use href="#Br" x="500" y="2870"/></g>
<g id="k56_1"><use href="#Bl" x="84" y="2922"/></g><g id="k56_2"><use href="#Bl" x="136" y="2922"/></g><g id="k56_3"><use href="#Bl" x="188" y="2922"/></g><g id="k56_4"><use href="#Bl" x="240" y="2922"/></g><g id="k56_5"><use href="#Bl" x="292" y="2922"/></g><g id="k56_6"><use href="#Bl" x="344" y="2922"/></g><g id="k56_7"><use href="#Bl" x="396" y="2922"/></g><g id="k56_8"><use href="#Bl" x="448" y="2922"/></g><g id="k56_9"><use href="#Bl" x="500" y="2922"/></g>
<g id="k57_1"><use href="#Br" x="84" y="2974"/></g><g id="k57_2"><use href="#Br" x="136" y="2974"/></g><g id="k57_3"><use href="#Br" x="188" y="2974"/></g><g id="k57_4"><use href="#Br" x="240" y="2974"/></g><g id="k57_5"><use href="#Br" x="292" y="2974"/></g><g id="k57_6"><use href="#Br" x="344" y="2974"/></g><g id="k57_7"><use href="#Br" x="396" y="2974"/></g><g id="k57_8"><use href="#Br" x="448" y="2974"/></g><g id="k57_9"><use href="#Br" x="500" y="2974"/></g>
<g id="k58_1"><use href="#Bl" x="84" y="3026"/></g><g id="k58_2"><use href="#Bl" x="136" y="3026"/></g><g id="k58_3"><use href="#Bl" x="188" y="3026"/></g><g id="k58_4"><use href="#Bl" x="240" y="3026"/></g><g id="k58_5"><use href="#Bl" x="292" y="3026"/></g><g id="k58_6"><use href="#Bl" x="344" y="3026"/></g><g id="k58_7"><use href="#Bl" x="396" y="3026"/></g><g id="k58_8"><use href="#Bl" x="448" y="3026"/></g><g id="k58_9"><use href="#Bl" x="500" y="3026"/></g>
<g id="k59_1"><use href="#Rr" x="84" y="3078"/></g><g id="k59_2"><use href="#Br" x="136" y="3078"/></g><g id="k59_3"><use href="#Rr" x="188" y="3078"/></g><g id="k59_4"><use href="#Br" x="240" y="3078"/></g><g id="k59_5"><use href="#Rr" x="292" y="3078"/></g><g id="k59_6"><use href="#Br" x="344" y="3078"/></g><g id="k59_7"><use href="#Rr" x="396" y="3078"/></g><g id="k59_8"><use href="#Br" x="448" y="3078"/></g><g id="k59_9"><use href="#Rr" x="500" y="3078"/></g>
</g>
<g id="watermark"><rect x="216" y="1588" width="156" height="15" fill="#fff" fill-opacity="0.5"/><text class="wm" x="294" y="1601">BRACELETBOOK.COM</text></g>
<g id="row-labels">
<text class="ln" x="21" y="66.3">1</text><text class="rn" x="563" y="66.3">1</text>
<text class="ln" x="21" y="118.3">2</text><text class="rn" x="563" y="118.3">2</text>
<text class="ln" x="21" y="170.3">3</text><text class="rn" x="563" y="170.3">3</text>
<text class="ln" x="21" y="222.3">4</text><text class="rn" x="563" y="222.3">4</text>
<text class="ln" x="21" y="274.3">5</text><text class="rn" x="563" y="274.3">5</text>
<text class="ln" x="21" y="326.3">6</text><text class="rn" x="563" y="326.3">6</text>
<text class="ln" x="21" y="378.3">7</text><text class="rn" x="563" y="378.3">7</text>
<text class="ln" x="21" y="430.3">8</text><text class="rn" x="563" y="430.3">8</text>
<text class="ln" x="21" y="482.3">9</text><text class="rn" x="563" y="482.3">9</text>
<text class="ln" x="21" y="534.3">10</text><text class="rn" x="563" y="534.3">10</text>
<text class="ln" x="21" y="586.3">11</text><text class="rn" x="563" y="586.3">11</text>
<text class="ln" x="21" y="638.3">12</text><text class="rn" x="563" y="638.3">12</text>
<text class="ln" x="21" y="690.3">13</text><text class="rn" x="563" y="690.3">13</text>
<text class="ln" x="21" y="742.3">14</text><text class="rn" x="563" y="742.3">14</text>
<text class="ln" x="21" y="794.3">15</text><text class="rn" x="563" y="794.3">15</text>
<text class="ln" x="21" y="846.3">16</text><text class="rn" x="563" y="846.3">16</text>
<text class="ln" x="21" y="898.3">17</text><text class="rn" x="563" y="898.3">17</text>
<text class="ln" x="21" y="950.3">18</text><text class="rn" x="563" y="950.3">18</text>
<text class="ln" x="21" y="1002.3">19</text><text class="rn" x="563" y="1002.3">19</text>
<text class="ln" x="21" y="1054.3">20</text><text class="rn" x="563" y="1054.3">20</text>
<text class="ln" x="21" y="1106.3">21</text><text class="rn" x="563" y="1106.3">21</text>
<text class="ln" x="21" y="1158.3">22</text><text class="rn" x="563" y="1158.3">22</text>
<text class="ln" x="21" y="1210.3">23</text><text class="rn" x="563" y="1210.3">23</text>
<text class="ln" x="21" y="1262.3">24</text><text class="rn" x="563" y="1262.3">24</text>
<text class="ln" x="21" y="1314.3">25</text><text class="rn" x="563" y="1314.3">25</text>
<text class="ln" x="21" y="1366.3">26</text><text class="rn" x="563" y="1366.3">26</text>
<text class="ln" x="21" y="1418.3">27</text><text class="rn" x="563" y="1418.3">27</text>
<text class="ln" x="21" y="1470.3">28</text><text class="rn" x="563" y="1470.3">28</text>
<text class="ln" x="21" y="1522.3">29</text><text class="rn" x="563" y="1522.3">29</text>
<text class="ln" x="21" y="1574.3">30</text><text class="rn" x="563" y="1574.3">30</text>
<text class="ln" x="21" y="1626.3">31</text><text class="rn" x="563" y="1626.3">31</text>
<text class="ln" x="21" y="1678.3">32</text><text class="rn" x="563" y="1678.3">32</text>
<text class="ln" x="21" y="1730.3">33</text><text class="rn" x="563" y="1730.3">33</text>
<text class="ln" x="21" y="1782.3">34</text><text class="rn" x="563" y="1782.3">34</text>
<text class="ln" x="21" y="1834.3">35</text><text class="rn" x="563" y="1834.3">35</text>
<text class="ln" x="21" y="1886.3">36</text><text class="rn" x="563" y="1886.3">36</text>
<text class="ln" x="21" y="1938.3">37</text><text class="rn" x="563" y="1938.3">37</text>
<text class="ln" x="21" y="1990.3">38</text><text class="rn" x="563" y="1990.3">38</text>
<text class="ln" x="21" y="2042.3">39</text><text class="rn" x="563" y="2042.3">39</text>
<text class="ln" x="21" y="2094.3">40</text><text class="rn" x="563" y="2094.3">40</text>
<text class="ln" x="21" y="2146.3">41</text><text class="rn" x="563" y="2146.3">41</text>
<text class="ln" x="21" y="2198.3">42</text><text class="rn" x="563" y="2198.3">42</text>
<text class="ln" x="21" y="2250.3">43</text><text class="rn" x="563" y="2250.3">43</text>
<text class="ln" x="21" y="2302.3">44</text><text class="rn" x="563" y="2302.3">44</text>
<text class="ln" x="21" y="2354.3">45</text><text class="rn" x="563" y="2354.3">45</text>
<text class="ln" x="21" y="2406.3">46</text><text class="rn" x="563" y="2406.3">46</text>
<text class="ln" x="21" y="2458.3">47</text><text class="rn" x="563" y="2458.3">47</text>
<text class="ln" x="21" y="2510.3">48</text><text class="rn" x="563" y="2510.3">48</text>
<text class="ln" x="21" y="2562.3">49</text><text class="rn" x="563" y="2562.3">49</text>
<text class="ln" x="21" y="2614.3">50</text><text class="rn" x="563" y="2614.3">50</text>
<text class="ln" x="21" y="2666.3">51</text><text class="rn" x="563" y="2666.3">51</text>
<text class="ln" x="21" y="2718.3">52</text><text class="rn" x="563" y="2718.3">52</text>
<text class="ln" x="21" y="2770.3">53</text><text class="rn" x="563" y="2770.3">53</text>
<text class="ln" x="21" y="2822.3">54</text><text class="rn" x="563" y="2822.3">54</text>
<text class="ln" x="21" y="2874.3">55</text><text class="rn" x="563" y="2874.3">55</text>
<text class="ln" x="21" y="2926.3">56</text><text class="rn" x="563" y="2926.3">56</text>
<text class="ln" x="21" y="2978.3">57</text><text class="rn" x="563" y="2978.3">57</text>
<text class="ln" x="21" y="3030.3">58</text><text class="rn" x="563" y="3030.3">58</text>
<text class="ln" x="21" y="3082.3">59</text><text class="rn" x="563" y="3082.3">59</text>
</g>
</svg>
